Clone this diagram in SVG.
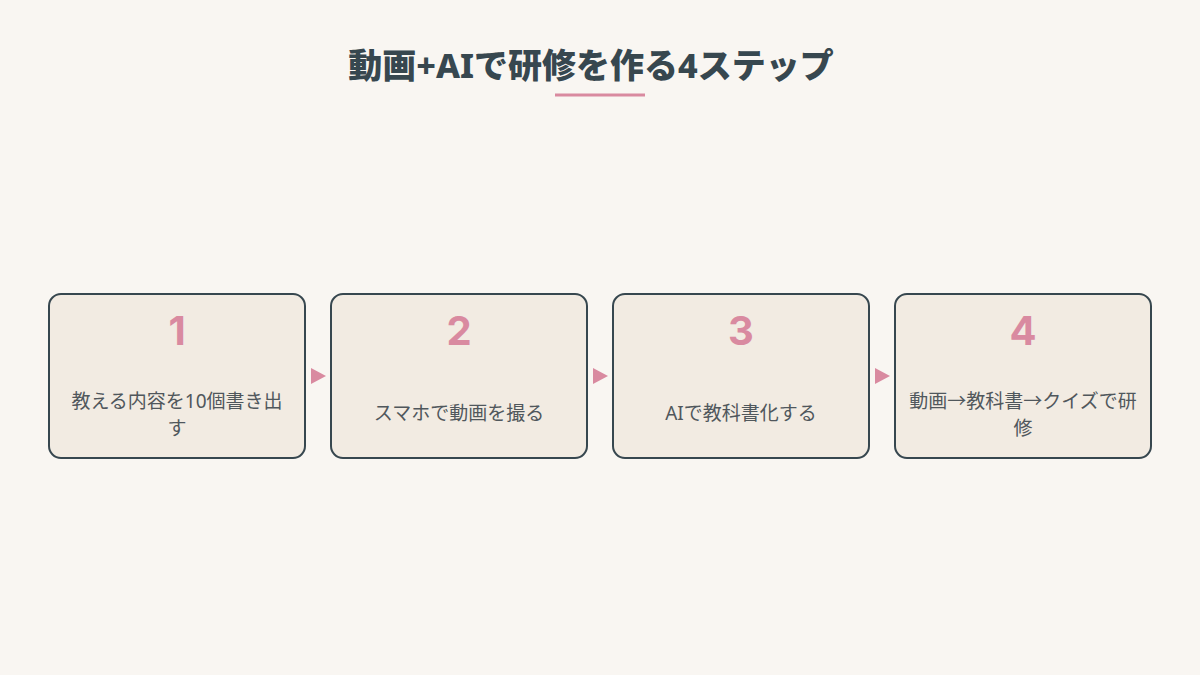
<svg xmlns="http://www.w3.org/2000/svg" width="1200" height="675" viewBox="0 0 1200 675">
<style>
.box{fill:#f2ebe2;stroke:#37474f;stroke-width:2}
.num{font-family:Inter,"Noto Sans",sans-serif;font-weight:700;font-size:40px;fill:#d98aa0;text-anchor:middle}
.lbl{font-family:"Noto Sans","Noto Sans CJK JP",sans-serif;font-size:19px;fill:#50575c;text-anchor:middle}
.arr{fill:#d98aa0}
</style>
<rect width="1200" height="675" fill="#f9f6f2"/>
<g id="title">
<text x="591" y="78" font-family="'Noto Sans','Noto Sans CJK JP',sans-serif" font-weight="800" font-size="34" fill="#37474f" text-anchor="middle">動画+AIで研修を作る4ステップ</text>
<rect x="555" y="93.5" width="90" height="3" fill="#d98aa0"/>
</g>
<g id="connectors">
<polygon class="arr" points="311,368 326,376 311,384"/>
<polygon class="arr" points="593,368 608,376 593,384"/>
<polygon class="arr" points="875,368 890,376 875,384"/>
</g>
<g id="step1">
<rect class="box" x="49" y="294" width="256" height="164" rx="12"/>
<text class="num" x="177" y="345">1</text>
<text class="lbl" x="177" y="408">教える内容を10個書き出</text>
<text class="lbl" x="177" y="434.5">す</text>
</g>
<g id="step2">
<rect class="box" x="331" y="294" width="256" height="164" rx="12"/>
<text class="num" x="459" y="345">2</text>
<text class="lbl" x="459" y="420">スマホで動画を撮る</text>
</g>
<g id="step3">
<rect class="box" x="613" y="294" width="256" height="164" rx="12"/>
<text class="num" x="741" y="345">3</text>
<text class="lbl" x="741" y="420">AIで教科書化する</text>
</g>
<g id="step4">
<rect class="box" x="895" y="294" width="256" height="164" rx="12"/>
<text class="num" x="1023" y="345">4</text>
<text class="lbl" x="1023" y="408">動画→教科書→クイズで研</text>
<text class="lbl" x="1023" y="434.5">修</text>
</g>
</svg>
